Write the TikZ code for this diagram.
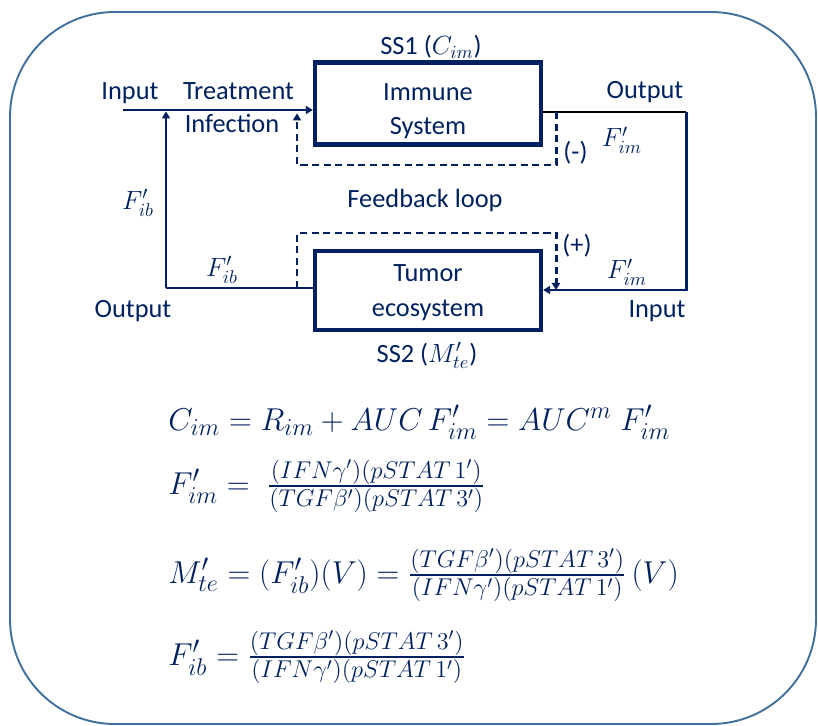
\RequirePackage{fix-cm}
\documentclass[tikz,border=0pt]{standalone}
\usepackage{amsmath}
\usepackage[no-math]{fontspec}
\setmainfont{Carlito}
\usetikzlibrary{arrows.meta,positioning}
\DeclareMathSizes{18}{18}{13.8}{10}
\definecolor{dunkelblau}{RGB}{0,32,96}
\definecolor{rahmenblau}{RGB}{65,113,156}
\tikzset{
	block/.style={draw=dunkelblau, line width=2.5pt, minimum width=4.52cm, minimum height=1.58cm, align=center, text=dunkelblau, font=\fontsize{15}{19.5}\selectfont},
	linie/.style={dunkelblau, line width=1.7pt},
	gestrichelt/.style={dunkelblau, line width=1.7pt, dash pattern=on 4pt off 2.6pt},
	pfeil/.style={-{Triangle[length=4pt,width=4.6pt]}},
	beschriftung/.style={text=dunkelblau, inner sep=0pt, font=\fontsize{15}{18}\selectfont},
	gleichung/.style={text=dunkelblau, inner sep=0pt, anchor=base west, font=\fontsize{18}{22}\selectfont}
}

\begin{document}
\begin{tikzpicture}[x=0.02cm, y=-0.02cm]
\useasboundingbox (0,0) rectangle (818,726);
\draw[rahmenblau, line width=1.1pt, rounded corners=2.1cm] (10,12) rectangle (816,724);

% die beiden Teilsysteme
\node[block] (immune) at (428,103.5) {\rule{0pt}{18pt}Immune\\System};
\node[block] (tumor) at (428,290.5) {\rule{0pt}{12pt}Tumor\\ecosystem};
\node[beschriftung, anchor=base] (ss1) at (431,55) {SS1 ($C_{im}$)};
\node[beschriftung, anchor=base] (ss2) at (427,362) {SS2 ($M^{\prime}_{te}$)};

% Ecken der Verbindungen
\coordinate (ein) at (123,110);
\coordinate (lu) at (166,288);
\coordinate (ro) at (686,112);
\coordinate (ru) at (686,290);
\coordinate (r1) at (556,112);
\coordinate (r2) at (297,112);
\coordinate (r3) at (297,288);
\coordinate (r4) at (556,290);

\draw[linie,pfeil] (ein) -- (ein -| immune.west);
\draw[linie,pfeil,shorten >=0.8pt] (lu) -- (lu |- ein);
\draw[linie] (lu) -- (lu -| tumor.west);
\draw[linie,pfeil] (ro) -- (ru) -- (ru -| tumor.east);
\draw[black, line width=1.7pt] (ro -| immune.east) -- (ro);
\draw[gestrichelt,pfeil,shorten >=0.8pt] (r1) -- ++(0,53) -| (r2);
\draw[gestrichelt,pfeil] (r3) -- ++(0,-55) -| (r4);

% Beschriftungen
\node[beschriftung, anchor=base] (einlabel) at (130,100) {Input};
\node[beschriftung, anchor=base] (treat) at (238.5,100) {Treatment};
\node[beschriftung, anchor=base] (infekt) at (232,133) {Infection};
\node[beschriftung, anchor=base] (auslabel) at (645,99) {Output};
\node[beschriftung] (fim1) at (622,140) {$F^{\prime}_{im}$};
\node[beschriftung] (minus) at (575.5,153) {(-)};
\node[beschriftung] (fib1) at (138,203) {$F^{\prime}_{ib}$};
\node[beschriftung, anchor=base] (feedback) at (425,208) {Feedback loop};
\node[beschriftung] (plus) at (577,246) {(+)};
\node[beschriftung] (fib2) at (222,270) {$F^{\prime}_{ib}$};
\node[beschriftung] (fim2) at (627,272) {$F^{\prime}_{im}$};
\node[beschriftung, anchor=base] (auslabel2) at (133,317) {Output};
\node[beschriftung, anchor=base] (einlabel2) at (657,317) {Input};

% Gleichungen
\node[gleichung] (gl1) at (168,430) {$C_{im} = R_{im} + AUC\,F^{\prime}_{im} = AUC^{m}\;F^{\prime}_{im}$};
\node[gleichung] (gl2) at (168,494) {$F^{\prime}_{im} = \;\frac{(IFN\gamma^{\prime})(pSTAT\,1^{\prime})}{(TGF\beta^{\prime})(pSTAT\,3^{\prime})}$};
\node[gleichung] (gl3) at (168,583) {$M^{\prime}_{te} = (F^{\prime}_{ib})(V) = \frac{(TGF\beta^{\prime})(pSTAT\,3^{\prime})}{(IFN\gamma^{\prime})(pSTAT\,1^{\prime})}\,(V)$};
\node[gleichung] (gl4) at (168,665) {$F^{\prime}_{ib} = \frac{(TGF\beta^{\prime})(pSTAT\,3^{\prime})}{(IFN\gamma^{\prime})(pSTAT\,1^{\prime})}$};
\end{tikzpicture}
\end{document}
